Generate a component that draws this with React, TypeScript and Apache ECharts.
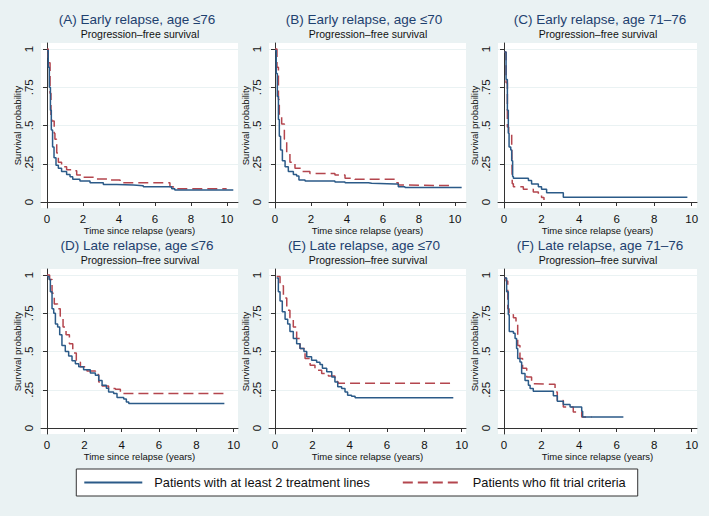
import React, { useEffect, useRef } from 'react';
import * as echarts from 'echarts';

const panelTitles = [
  '(A) Early relapse, age ≤76',
  '(B) Early relapse, age ≤70',
  '(C) Early relapse, age 71–76',
  '(D) Late relapse, age ≤76',
  '(E) Late relapse, age ≤70',
  '(F) Late relapse, age 71–76',
];
const subTitle = 'Progression–free survival';
const xAxisTitle = 'Time since relapse (years)';
const yAxisTitle = 'Survival probability';
const seriesNames = ['Patients with at least 2 treatment lines', 'Patients who fit trial criteria'];

const xTicks = [0, 2, 4, 6, 8, 10];
const yTicks = [0, 0.25, 0.5, 0.75, 1];
const yTickLabels = ['0', '.25', '.5', '.75', '1'];

// Kaplan-Meier curves: [time, survival]
const aBlue: [number, number][] = [
  [0, 0.99], [0.07, 0.88], [0.13, 0.75], [0.19, 0.6], [0.24, 0.47], [0.31, 0.36], [0.39, 0.29],
  [0.5, 0.24], [0.63, 0.22], [0.81, 0.2], [1.09, 0.18], [1.28, 0.165], [1.43, 0.148], [1.83, 0.137],
  [2.39, 0.126], [3.13, 0.115], [3.87, 0.111], [4.8, 0.107], [5.35, 0.1], [6.93, 0.087], [7.1, 0.078], [10.35, 0.078],
];
const aRed: [number, number][] = [
  [0, 1], [0.07, 0.91], [0.17, 0.71], [0.22, 0.56], [0.26, 0.53], [0.4, 0.45], [0.44, 0.41], [0.54, 0.32],
  [0.63, 0.26], [0.81, 0.23], [1.09, 0.21], [1.37, 0.205], [1.65, 0.176], [2.02, 0.161], [2.76, 0.15],
  [3.5, 0.144], [4.06, 0.126], [6.65, 0.126], [6.83, 0.1], [7.02, 0.087], [9.98, 0.087],
];
const bBlue: [number, number][] = [
  [0, 0.99], [0.07, 0.84], [0.13, 0.69], [0.19, 0.54], [0.24, 0.43], [0.31, 0.34], [0.41, 0.27],
  [0.56, 0.23], [0.74, 0.2], [1.02, 0.18], [1.2, 0.17], [1.33, 0.144], [1.67, 0.137], [2.96, 0.137],
  [3.33, 0.131], [3.89, 0.126], [5.19, 0.122], [5.37, 0.118], [6.67, 0.118], [6.85, 0.1], [7.22, 0.094], [10.37, 0.094],
];
const bRed: [number, number][] = [
  [0, 1], [0.11, 0.88], [0.19, 0.67], [0.24, 0.57], [0.37, 0.51], [0.52, 0.41], [0.65, 0.32], [0.83, 0.26],
  [1.11, 0.22], [1.48, 0.2], [1.94, 0.187], [2.96, 0.187], [3.33, 0.176], [3.89, 0.155], [4.44, 0.148],
  [6.48, 0.148], [6.67, 0.126], [6.85, 0.111], [7.13, 0.107], [9.72, 0.107],
];
const cBlue: [number, number][] = [
  [0.02, 0.98], [0.11, 0.8], [0.18, 0.6], [0.23, 0.45], [0.27, 0.36], [0.36, 0.34], [0.41, 0.27],
  [0.46, 0.166], [0.5, 0.155], [1.3, 0.14], [1.47, 0.118], [1.83, 0.1], [2.0, 0.083], [2.27, 0.061],
  [2.9, 0.061], [3.16, 0.031], [9.77, 0.031],
];
const cRed: [number, number][] = [
  [0.02, 0.98], [0.11, 0.78], [0.18, 0.49], [0.25, 0.44], [0.36, 0.44], [0.41, 0.38], [0.44, 0.12],
  [0.5, 0.1], [1.03, 0.083], [1.56, 0.065], [1.83, 0.052], [2.0, 0.03], [2.13, 0.013],
];
const dBlue: [number, number][] = [
  [0, 0.99], [0.11, 0.97], [0.18, 0.89], [0.27, 0.78], [0.36, 0.75], [0.45, 0.68], [0.57, 0.66],
  [0.68, 0.61], [0.8, 0.54], [0.98, 0.5], [1.16, 0.47], [1.34, 0.44], [1.52, 0.42], [1.7, 0.4],
  [1.96, 0.38], [2.32, 0.36], [2.59, 0.345], [2.77, 0.31], [2.95, 0.28], [3.18, 0.26], [3.3, 0.236],
  [3.57, 0.225], [3.75, 0.2], [4.11, 0.19], [4.25, 0.17], [4.38, 0.16], [9.5, 0.16],
];
const dRed: [number, number][] = [
  [0, 1], [0.14, 0.97], [0.27, 0.88], [0.39, 0.81], [0.57, 0.78], [0.71, 0.73], [0.86, 0.66],
  [1.02, 0.61], [1.2, 0.55], [1.38, 0.49], [1.57, 0.43], [1.79, 0.4], [2.14, 0.373], [2.59, 0.35],
  [2.77, 0.3], [2.95, 0.275], [3.3, 0.258], [3.66, 0.253], [3.93, 0.225], [9.46, 0.225],
];
const eBlue: [number, number][] = [
  [0.09, 0.98], [0.18, 0.89], [0.27, 0.83], [0.39, 0.76], [0.54, 0.71], [0.68, 0.68], [0.8, 0.63],
  [0.98, 0.585], [1.16, 0.55], [1.34, 0.52], [1.55, 0.5], [1.7, 0.465], [1.96, 0.443], [2.23, 0.43],
  [2.41, 0.415], [2.54, 0.39], [2.77, 0.367], [3.04, 0.334], [3.21, 0.3], [3.36, 0.27], [3.57, 0.258],
  [3.75, 0.236], [3.89, 0.214], [4.1, 0.207], [4.29, 0.197], [9.55, 0.197],
];
const eRed: [number, number][] = [
  [0.09, 0.99], [0.27, 0.93], [0.45, 0.85], [0.63, 0.77], [0.8, 0.72], [0.98, 0.66], [1.16, 0.585],
  [1.34, 0.52], [1.61, 0.454], [1.88, 0.41], [2.14, 0.378], [2.5, 0.356], [2.86, 0.34], [3.21, 0.33],
  [3.34, 0.3], [3.39, 0.293], [9.55, 0.293],
];
const fBlue: [number, number][] = [
  [0.02, 0.98], [0.14, 0.89], [0.23, 0.74], [0.28, 0.63], [0.5, 0.62], [0.59, 0.585], [0.67, 0.52],
  [0.73, 0.454], [0.85, 0.432], [0.94, 0.356], [1.12, 0.31], [1.3, 0.28], [1.39, 0.258], [1.56, 0.24],
  [2.54, 0.24], [2.63, 0.21], [2.84, 0.175], [3.16, 0.153], [3.52, 0.138], [4.14, 0.109], [4.19, 0.072], [6.36, 0.072],
];
const fRed: [number, number][] = [
  [0.02, 0.98], [0.11, 0.96], [0.2, 0.78], [0.27, 0.74], [0.5, 0.72], [0.64, 0.69], [0.73, 0.54],
  [0.85, 0.454], [0.99, 0.39], [1.21, 0.334], [1.47, 0.29], [1.65, 0.286], [2.54, 0.286], [2.72, 0.236],
  [2.84, 0.18], [3.16, 0.138], [3.69, 0.105], [4.14, 0.072], [4.67, 0.072],
];
const panelData = [
  [aBlue, aRed], [bBlue, bRed], [cBlue, cRed],
  [dBlue, dRed], [eBlue, eRed], [fBlue, fRed],
];

// layout (pixels)
const colLayout = [
  { left: 41, right: 238, titleX: 137, subX: 140 },
  { left: 269, right: 466, titleX: 364, subX: 368 },
  { left: 498, right: 697, titleX: 600, subX: 598 },
];
// pixel of x=0 and pixels per unit, per panel
const panelScale = [
  { x0: 47, ppu: 18 }, { x0: 275, ppu: 18 }, { x0: 504, ppu: 18.77 },
  { x0: 47, ppu: 18.67 }, { x0: 275, ppu: 18.67 }, { x0: 504, ppu: 18.77 },
];
const rowLayout = [
  { top: 43, y1: 49, y0: 202, bottom: 208, titleY: 19, subY: 34 },
  { top: 269, y1: 275, y0: 428, bottom: 434, titleY: 245, subY: 260 },
];

const FONT = '"Liberation Sans", Arial, Helvetica, sans-serif';
const BG = '#EAF2F3';
const BLUE = '#2B5A88';
const RED = '#B4464E';
const TITLE_COLOR = '#1E416F';

export default function App() {
  const ref = useRef<HTMLDivElement>(null);
  useEffect(() => {
    if (!ref.current) return;
    const chart = echarts.init(ref.current, undefined, { renderer: 'svg' });
    const grids: any[] = [];
    const xAxes: any[] = [];
    const yAxes: any[] = [];
    const series: any[] = [];
    const titles: any[] = [];
    for (let p = 0; p < 6; p++) {
      const col = colLayout[p % 3];
      const row = rowLayout[Math.floor(p / 3)];
      const sc = panelScale[p];
      const ppuY = row.y0 - row.y1;
      grids.push({
        left: col.left, top: row.top, width: col.right - col.left, height: row.bottom - row.top,
        show: true, backgroundColor: '#fff', borderWidth: 0, containLabel: false,
      });
      xAxes.push({
        type: 'value', gridIndex: p,
        min: -(sc.x0 - col.left) / sc.ppu, max: (col.right - sc.x0) / sc.ppu,
        axisLine: { show: true, lineStyle: { color: '#333', width: 1 } },
        axisTick: { show: true, inside: false, length: 4, customValues: xTicks, lineStyle: { color: '#333' } },
        axisLabel: { customValues: xTicks, margin: 5, fontSize: 11.5, color: '#111', fontFamily: FONT,
          formatter: (v: number) => String(Math.round(v)) },
        splitLine: { show: false },
        name: xAxisTitle, nameLocation: 'middle', nameGap: 16,
        nameTextStyle: { fontSize: 9.5, color: '#111', fontFamily: FONT },
      });
      yAxes.push({
        type: 'value', gridIndex: p,
        min: -(row.bottom - row.y0) / ppuY, max: 1 + (row.y1 - row.top) / ppuY,
        axisLine: { show: true, lineStyle: { color: '#333', width: 1 } },
        axisTick: { show: true, inside: false, length: 4, customValues: yTicks, lineStyle: { color: '#333' } },
        axisLabel: { customValues: yTicks, margin: 6, rotate: 90, fontSize: 11.5, color: '#111', fontFamily: FONT,
          formatter: (v: number) => {
            const i = yTicks.findIndex((t) => Math.abs(t - v) < 1e-6);
            return i >= 0 ? yTickLabels[i] : '';
          } },
        splitLine: { show: true, lineStyle: { color: BG, width: 1 } },
        name: yAxisTitle, nameLocation: 'middle', nameGap: 18,
        nameTextStyle: { fontSize: 9.5, color: '#111', fontFamily: FONT },
      });
      const [blue, red] = panelData[p];
      series.push({
        name: seriesNames[0], type: 'line', xAxisIndex: p, yAxisIndex: p, data: blue,
        step: 'end', symbol: 'none', clip: false, silent: true,
        lineStyle: { color: BLUE, width: 1.5 }, itemStyle: { color: BLUE }, z: 3,
      });
      series.push({
        name: seriesNames[1], type: 'line', xAxisIndex: p, yAxisIndex: p, data: red,
        step: 'end', symbol: 'none', clip: false, silent: true,
        lineStyle: { color: RED, width: 1.5, type: [10, 5] }, itemStyle: { color: RED }, z: 2,
      });
      titles.push({
        text: panelTitles[p], left: col.titleX, top: row.titleY - 8, textAlign: 'center', padding: 0,
        textStyle: { fontSize: 13.5, fontWeight: 'normal', color: TITLE_COLOR, fontFamily: FONT, lineHeight: 16 },
      });
      titles.push({
        text: subTitle, left: col.subX, top: row.subY - 6.5, textAlign: 'center', padding: 0,
        textStyle: { fontSize: 10.5, fontWeight: 'normal', color: '#111', fontFamily: FONT, lineHeight: 13 },
      });
    }
    chart.setOption({
      animation: false,
      backgroundColor: BG,
      textStyle: { fontFamily: FONT },
      title: titles,
      grid: grids,
      xAxis: xAxes,
      yAxis: yAxes,
      series,
      legend: {
        data: seriesNames,
        left: 'center', top: 469,
        itemWidth: 58, itemHeight: 14, itemGap: 32,
        itemStyle: { opacity: 0, borderWidth: 0 },
        backgroundColor: '#fff', borderColor: '#333', borderWidth: 1, borderRadius: 0,
        padding: [7, 12, 7, 7],
        textStyle: { fontSize: 12.8, color: '#111', fontFamily: FONT, padding: [0, 0, 0, 7] },
        selectedMode: false,
      },
    });
    return () => chart.dispose();
  }, []);
  return <div ref={ref} style={{ position: 'fixed', left: 0, top: 0, width: 709, height: 516 }} />;
}
